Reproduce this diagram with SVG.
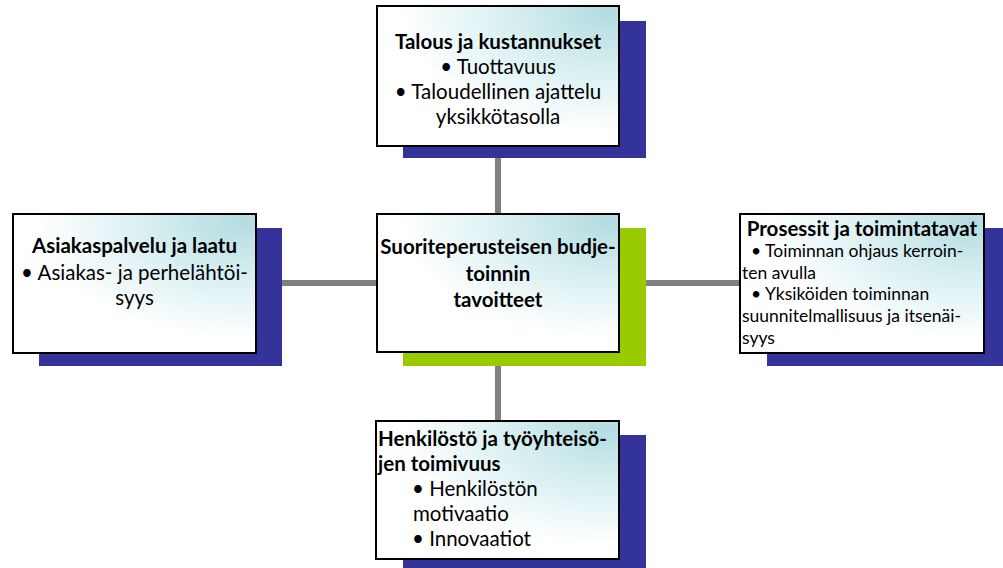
<svg xmlns="http://www.w3.org/2000/svg" width="1003" height="568" viewBox="0 0 1003 568">
<style>
.box{stroke:#000;stroke-width:2;fill:url(#g)}
.sh{fill:#333399}
.shg{fill:#99cc00}
.con{stroke:#808080;stroke-width:6;fill:none}
text{font-family:Lato,"Liberation Sans",sans-serif;font-size:20.5px;fill:#000}
.b{font-weight:bold}
.c{text-anchor:middle}
.s{font-size:17.5px}
</style>
<defs>
<radialGradient id="g" cx="0.95" cy="0.05" r="0.85">
<stop offset="0" stop-color="#b3dce0"/>
<stop offset="0.45" stop-color="#d6eef0"/>
<stop offset="1" stop-color="#ffffff"/>
</radialGradient>
<clipPath id="cr"><rect x="740" y="214" width="244" height="139"/></clipPath>
</defs>
<g id="connectors">
<line class="con" x1="498" y1="150" x2="498" y2="425"/>
<line class="con" x1="270" y1="283" x2="745" y2="283"/>
</g>
<g id="top">
<rect class="sh" x="403" y="21" width="243" height="137"/>
<rect class="box" x="377" y="6" width="242" height="140"/>
<text class="b c" x="498" y="49">Talous ja kustannukset</text>
<text class="c" x="498" y="74">• Tuottavuus</text>
<text class="c" x="498" y="99">• Taloudellinen ajattelu</text>
<text class="c" x="498" y="124">yksikkötasolla</text>
</g>
<g id="left">
<rect class="sh" x="39" y="228" width="243" height="138"/>
<rect class="box" x="13" y="214" width="243" height="139"/>
<text class="b c" x="134.5" y="253">Asiakaspalvelu ja laatu</text>
<text class="c" x="134.5" y="280">• Asiakas- ja perhelähtöi-</text>
<text class="c" x="134.5" y="305">syys</text>
</g>
<g id="center">
<rect class="shg" x="403" y="228" width="243" height="138"/>
<rect class="box" x="377" y="214" width="242" height="138"/>
<text class="b c" x="498" y="254">Suoriteperusteisen budje-</text>
<text class="b c" x="498" y="281">toinnin</text>
<text class="b c" x="498" y="307">tavoitteet</text>
</g>
<g id="right">
<rect class="sh" x="767" y="228" width="236" height="138"/>
<rect class="box" x="740" y="214" width="244" height="139"/>
<g clip-path="url(#cr)">
<text class="b c" x="862" y="236">Prosessit ja toimintatavat</text>
<text class="s" x="751" y="257">• Toiminnan ohjaus kerroin-</text>
<text class="s" x="742" y="279">ten avulla</text>
<text class="s" x="751" y="300">• Yksiköiden toiminnan</text>
<text class="s" x="742" y="322">suunnitelmallisuus ja itsenäi-</text>
<text class="s" x="742" y="344">syys</text>
</g>
<rect x="740" y="214" width="244" height="139" fill="none" stroke="#000" stroke-width="2"/>
</g>
<g id="bottom">
<rect class="sh" x="403" y="435" width="243" height="133"/>
<rect class="box" x="376" y="421" width="243" height="138"/>
<text class="b" x="378" y="446">Henkilöstö ja työyhteisö-</text>
<text class="b" x="378" y="471">jen toimivuus</text>
<text x="412" y="496">• Henkilöstön</text>
<text x="413" y="521">motivaatio</text>
<text x="412" y="546">• Innovaatiot</text>
</g>
</svg>
